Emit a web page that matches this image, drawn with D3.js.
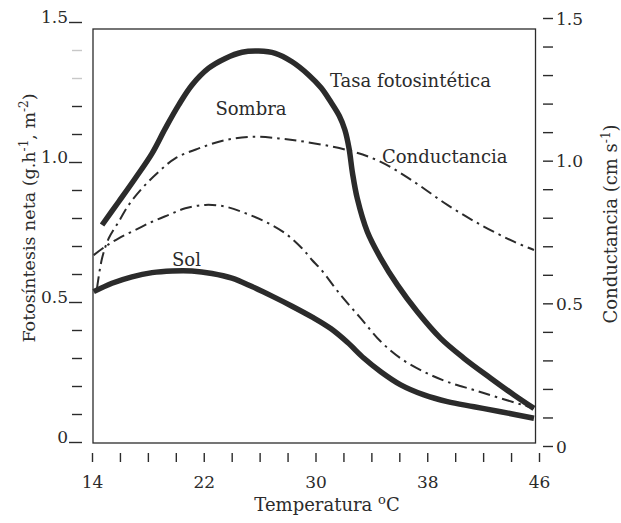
<!DOCTYPE html>
<html><head><meta charset="utf-8">
<script src="https://cdn.jsdelivr.net/npm/d3@7"></script>
<style>
body{margin:0;background:#fff}
svg{display:block}
text{font-family:"DejaVu Serif",serif;fill:#2b2b2b}
</style>
</head><body>
<svg id="c" width="621" height="523"></svg>
<script>
// ---- data ----
const tempTicks = d3.range(14, 47, 2);
const tempLabels = [14, 22, 30, 38, 46];
const yTicks = d3.range(0, 16).map(i => i / 10);
const yMajor = [0, 0.5, 1.0, 1.5];

// Tasa fotosintética – Sombra (left axis)
const sombraT = [14.72,15.91,17.10,18.30,19.25,20.21,21.16,22.35,23.54,24.74,25.93,27.12,28.32,29.51,30.40,31.09,31.70,32.10,32.40,32.65,32.99,33.71,34.67,35.86,37.29,38.96,40.63,42.54,44.21,45.64];
const sombraV = [0.775,0.858,0.942,1.031,1.120,1.204,1.275,1.335,1.370,1.392,1.396,1.388,1.358,1.311,1.265,1.215,1.165,1.115,1.049,0.960,0.870,0.751,0.656,0.561,0.465,0.370,0.299,0.228,0.168,0.120];
// Tasa fotosintética – Sol (left axis)
const solT = [14.12,15.43,16.86,18.30,19.73,21.16,22.59,24.02,25.45,26.89,28.32,29.80,31.09,32.28,33.47,34.67,36.10,37.77,39.44,41.35,43.26,45.64];
const solV = [0.537,0.567,0.590,0.605,0.611,0.611,0.602,0.585,0.555,0.521,0.485,0.445,0.405,0.356,0.299,0.251,0.204,0.168,0.144,0.126,0.108,0.085];
// Conductancia – Sombra (right axis)
const condSombraT = [14.36,14.72,15.20,15.91,16.63,17.58,18.77,19.96,21.64,23.54,25.45,27.37,29.27,32.28,34.67,37.05,39.44,41.83,44.21,45.64];
const condSombraV = [0.553,0.658,0.728,0.786,0.845,0.903,0.961,1.008,1.043,1.072,1.084,1.078,1.066,1.037,0.996,0.926,0.845,0.775,0.716,0.687];
// Conductancia – Sol (right axis)
const condSolT = [14.12,14.95,15.91,17.10,18.30,19.49,20.68,22.11,23.54,24.97,26.41,27.84,29.03,29.75,30.37,31.80,33.23,34.67,36.10,37.77,39.44,41.35,43.26,45.64];
const condSolV = [0.669,0.699,0.728,0.757,0.786,0.810,0.833,0.845,0.839,0.816,0.786,0.745,0.693,0.652,0.620,0.529,0.448,0.366,0.307,0.260,0.225,0.196,0.167,0.132];

// ---- chart ----
const svg = d3.select("#c");
const ink = "#2b2b2b";
const x = d3.scaleLinear().domain([14, 46]).range([92, 539]);
const yL = d3.scaleLinear().domain([0, 1.5]).range([442, 22]);
const yR = d3.scaleLinear().domain([0, 1.5]).range([446, 18]);

// frame
svg.append("rect")
  .attr("x", x(14) + 1).attr("y", yL(1.475))
  .attr("width", x(45.75) - x(14) - 1).attr("height", yL(0) - yL(1.475) + 1)
  .attr("fill", "none").attr("stroke", ink).attr("stroke-width", 1.3);

const fmt = v => v === 0 ? "0" : d3.format(".1f")(v);
const isMajor = v => yMajor.some(m => Math.abs(m - v) < 1e-6);

// bottom axis
const gx = svg.append("g").attr("transform", "translate(0,453)")
  .call(d3.axisBottom(x).tickValues(tempTicks).tickSize(9)
    .tickFormat(d => tempLabels.includes(d) ? d : ""));
gx.select(".domain").remove();
gx.selectAll("line").attr("stroke", ink).attr("stroke-width", 1.4);
gx.selectAll("text").attr("y", 35).attr("dy", 0)
  .style("font-size", "17px").style("font-family", "DejaVu Serif").attr("fill", ink);

// left axis
const gl = svg.append("g").attr("transform", "translate(82,0)")
  .call(d3.axisLeft(yL).tickValues(yTicks).tickSize(10)
    .tickFormat(d => isMajor(d) ? fmt(d) : ""));
gl.select(".domain").remove();
gl.selectAll(".tick line").attr("stroke-width", 1.4)
  .attr("x2", d => isMajor(d) ? -13 : -10)
  .attr("stroke", d => (Math.abs(d - 1.4) < 1e-6 || Math.abs(d - 1.3) < 1e-6) ? "#c8c8c8" : ink);
gl.selectAll("text").attr("x", -14).attr("dy", 0)
  .style("font-size", "17px").style("font-family", "DejaVu Serif").attr("fill", ink);

// right axis
const gr = svg.append("g").attr("transform", "translate(543,0)")
  .call(d3.axisRight(yR).tickValues(yTicks).tickSize(10)
    .tickFormat(d => isMajor(d) ? fmt(d) : ""));
gr.select(".domain").remove();
gr.selectAll(".tick line").attr("stroke", ink).attr("stroke-width", 1.4);
gr.selectAll("text").attr("x", 13).attr("dy", "0.36em")
  .style("font-size", "17px").style("font-family", "DejaVu Serif").attr("fill", ink);

// curves
const lineL = d3.line().x(d => x(d[0])).y(d => yL(d[1])).curve(d3.curveCatmullRom.alpha(0.5));
const lineR = d3.line().x(d => x(d[0])).y(d => yR(d[1])).curve(d3.curveCatmullRom.alpha(0.5));
const zip = (a, b) => a.map((t, i) => [t, b[i]]);

[[condSombraT, condSombraV], [condSolT, condSolV]].forEach(([t, v]) =>
  svg.append("path").datum(zip(t, v)).attr("d", lineR)
    .attr("fill", "none").attr("stroke", ink).attr("stroke-width", 2)
    .attr("stroke-dasharray", "12,5,2.5,5"));
[[sombraT, sombraV], [solT, solV]].forEach(([t, v]) =>
  svg.append("path").datum(zip(t, v)).attr("d", lineL)
    .attr("fill", "none").attr("stroke", ink).attr("stroke-width", 5.5)
    .attr("stroke-linejoin", "round"));

// annotations
const ann = (t, xx, yy, anchor) => svg.append("text").attr("x", xx).attr("y", yy)
  .attr("text-anchor", anchor || "start").style("font-size", "18px").text(t);
ann("Tasa fotosintética", 330, 87);
ann("Sombra", 251, 115, "middle");
ann("Conductancia", 382, 163);
ann("Sol", 172, 266);

// axis titles
svg.append("text").attr("x", 327).attr("y", 511).attr("text-anchor", "middle")
  .style("font-size", "18px")
  .call(t => { t.append("tspan").text("Temperatura ");
               t.append("tspan").attr("baseline-shift", "super").attr("font-size", "13px").text("o");
               t.append("tspan").text("C"); });

const yl = svg.append("text").attr("transform", "translate(35,218) rotate(-90)")
  .attr("text-anchor", "middle").style("font-size", "17.5px");
yl.append("tspan").text("Fotosíntesis neta (g.h");
yl.append("tspan").attr("baseline-shift", "super").attr("font-size", "12px").text("-1");
yl.append("tspan").text(", m");
yl.append("tspan").attr("baseline-shift", "super").attr("font-size", "12px").text("-2");
yl.append("tspan").text(")");

const yr = svg.append("text").attr("transform", "translate(617,224) rotate(-90)")
  .attr("text-anchor", "middle").style("font-size", "18px");
yr.append("tspan").text("Conductancia (cm s");
yr.append("tspan").attr("baseline-shift", "super").attr("font-size", "12px").text("-1");
yr.append("tspan").text(")");
</script>
</body></html>
